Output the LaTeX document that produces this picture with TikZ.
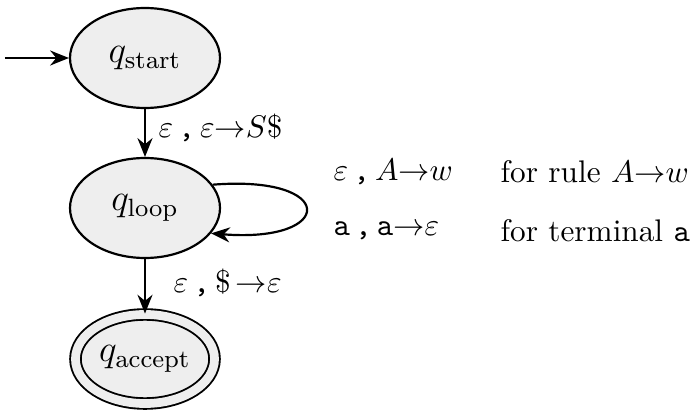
\documentclass[tikz,border=0pt]{standalone}
\usetikzlibrary{arrows.meta,shapes.geometric}
\definecolor{statefill}{HTML}{EEEEEE}
\tikzset{
  state/.style={ellipse,draw,line width=0.7pt,fill=statefill,minimum width=48pt,minimum height=32pt,inner sep=0pt,font=\large},
  acc/.style={state,double=statefill,double distance=2.8pt,line width=0.6pt,minimum width=44.5pt,minimum height=28.5pt},
  arr/.style={-{Stealth[length=6pt,width=4.8pt]},line width=0.7pt},
  lbl/.style={anchor=west,inner sep=0pt,font=\normalsize}
}
\begin{document}
\begin{tikzpicture}[x=0.32pt,y=-0.32pt]
\useasboundingbox (0,0) rectangle (692,412);
\node[state] (start) at (145,58) {$q_{\mathrm{start}}$};
\node[state] (loop) at (145,208) {$q_{\mathrm{loop}}$};
\node[acc] (accept) at (145,359) {$q_{\mathrm{accept}}$};
\coordinate (init) at (5,58);
\draw[arr] (init) -- (start);
\draw[arr] (start.south) -- (loop.north);
\draw[arr] (loop.south) -- (accept);
\draw[arr] (loop.19) .. controls +(125,-10) and +(125,10) .. (loop.-21);
\node[lbl] (l1) at (158,128) {$\varepsilon\,\texttt{,}\,\varepsilon{\to}S\$$};
\node[lbl] (l2) at (173,283) {$\varepsilon\,\texttt{,}\,\$\,{\to}\varepsilon$};
\node[lbl] (r1) at (333,172) {$\varepsilon\,\texttt{,}\,A{\to}w$};
\node[lbl] (r2) at (500,172) {for rule $A{\to}w$};
\node[lbl] (r3) at (333,231) {$\texttt{a}\,\texttt{,}\,\texttt{a}{\to}\varepsilon$};
\node[lbl] (r4) at (500,231) {for terminal \texttt{a}};
\end{tikzpicture}
\end{document}
